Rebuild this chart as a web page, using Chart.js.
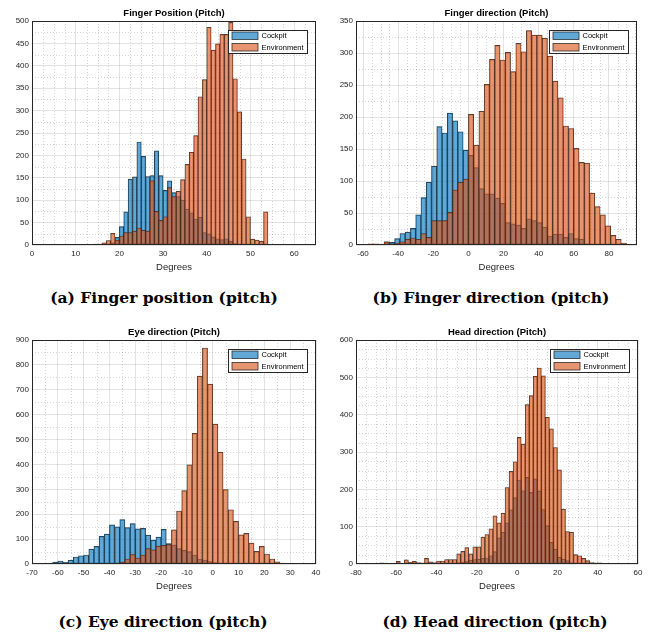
<!DOCTYPE html>
<html>
<head>
<meta charset="utf-8">
<script src="https://cdn.jsdelivr.net/npm/chart.js@4.4.1/dist/chart.umd.min.js"></script>
<style>
  html, body { margin: 0; padding: 0; background: #fff; }
  body { width: 649px; height: 636px; position: relative; overflow: hidden; }
  canvas { position: absolute; }
  .caption {
    position: absolute; width: 324px; height: 20px; line-height: 20px; text-align: center;
    font-family: 'DejaVu Serif', 'Liberation Serif', serif; font-weight: bold; font-size: 15.5px; color: #000;
  }
</style>
</head>
<body>
<canvas id="fingerPos" width="325" height="280" style="left:0;top:0"></canvas>
<canvas id="fingerDir" width="324" height="280" style="left:325px;top:0"></canvas>
<canvas id="eyeDir" width="325" height="280" style="left:0;top:319px"></canvas>
<canvas id="headDir" width="324" height="280" style="left:325px;top:319px"></canvas>

<div class="caption" style="left:2px;top:288px">(a) Finger position (pitch)</div>
<div class="caption" style="left:329px;top:288px">(b) Finger direction (pitch)</div>
<div class="caption" style="left:1px;top:612px">(c) Eye direction (pitch)</div>
<div class="caption" style="left:333px;top:612px">(d) Head direction (pitch)</div>

<script>
// ---- Finger position (pitch), 1 degree bins
const fpBins = [14.5, 15.5, 16.5, 17.5, 18.5, 19.5, 20.5, 21.5, 22.5, 23.5, 24.5, 25.5, 26.5, 27.5, 28.5, 29.5, 30.5, 31.5, 32.5, 33.5,
  34.5, 35.5, 36.5, 37.5, 38.5, 39.5, 40.5, 41.5, 42.5, 43.5, 44.5, 45.5, 46.5, 47.5, 48.5, 49.5, 50.5, 51.5, 52.5, 53.5];
const fpCockpit = [0, 0, 0, 0, 5, 17, 41, 74, 147, 152, 230, 198, 153, 155, 210, 155, 122, 143, 117, 108,
  100, 80, 72, 58, 62, 28, 25, 18, 14, 12, 14, 8, 3, 1, 0, 0, 0, 0, 0, 0];
const fpEnvironment = [2, 2, 5, 10, 26, 11, 20, 28, 28, 31, 38, 33, 31, 143, 75, 55, 63, 128, 108, 120,
  146, 180, 207, 244, 331, 369, 486, 435, 449, 470, 470, 497, 371, 297, 192, 63, 13, 11, 8, 74];
const fpXTicks = [0, 10, 20, 30, 40, 50, 60];
const fpYTicks = [0, 50, 100, 150, 200, 250, 300, 350, 400, 450, 500];

// ---- Finger direction (pitch), 3 degree bins
const fdBins = [-61.5, -58.5, -55.5, -52.5, -49.5, -46.5, -43.5, -40.5, -37.5, -34.5, -31.5, -28.5, -25.5, -22.5, -19.5, -16.5, -13.5,
  -10.5, -7.5, -4.5, -1.5, 1.5, 4.5, 7.5, 10.5, 13.5, 16.5, 19.5, 22.5, 25.5, 28.5, 31.5, 34.5, 37.5, 40.5, 43.5, 46.5, 49.5,
  52.5, 55.5, 58.5, 61.5, 64.5, 67.5, 70.5, 73.5, 76.5, 79.5, 82.5, 85.5, 88.5];
const fdCockpit = [0, 0, 0, 0, 0, 5, 4, 10, 18, 20, 26, 47, 74, 98, 123, 185, 175,
  206, 194, 177, 148, 140, 121, 88, 80, 80, 73, 65, 35, 33, 31, 26, 41, 38, 35, 28, 14, 17,
  17, 12, 18, 10, 9, 2, 0, 0, 0, 0, 0, 0, 0];
const fdEnvironment = [0, 1, 2, 2, 1, 5, 2, 3, 5, 9, 11, 9, 18, 12, 38, 38, 38,
  51, 86, 98, 103, 204, 156, 209, 251, 290, 312, 289, 301, 271, 315, 302, 335, 328, 328, 323, 295, 256,
  230, 186, 182, 151, 129, 128, 81, 60, 47, 30, 15, 9, 3];
const fdXTicks = [-60, -40, -20, 0, 20, 40, 60, 80];
const fdYTicks = [0, 50, 100, 150, 200, 250, 300, 350];

// ---- Eye direction (pitch), 2 degree bins
const edBins = [-65, -63, -61, -59, -57, -55, -53, -51, -49, -47, -45, -43, -41, -39, -37, -35, -33, -31, -29, -27,
  -25, -23, -21, -19, -17, -15, -13, -11, -9, -7, -5, -3, -1, 1, 3, 5, 7, 9, 11, 13,
  15, 17, 19, 21, 23, 25, 27, 29, 31, 33];
const edCockpit = [0, 3, 8, 12, 7, 15, 28, 33, 36, 60, 71, 111, 120, 157, 149, 178, 146, 162, 141, 143,
  116, 96, 108, 139, 82, 76, 62, 55, 50, 36, 20, 16, 10, 6, 3, 2, 1, 0, 0, 0,
  0, 0, 0, 0, 0, 0, 0, 0, 0, 0];
const edEnvironment = [0, 0, 0, 0, 0, 0, 0, 0, 0, 0, 0, 0, 0, 2, 3, 8, 20, 38, 24, 36,
  62, 57, 72, 75, 78, 137, 213, 295, 398, 525, 755, 868, 723, 562, 449, 299, 218, 171, 117, 123,
  84, 51, 71, 40, 20, 9, 4, 2, 3, 3];
const edXTicks = [-70, -60, -50, -40, -30, -20, -10, 0, 10, 20, 30, 40];
const edYTicks = [0, 100, 200, 300, 400, 500, 600, 700, 800, 900];

// ---- Head direction (pitch), 2 degree bins
const hdBins = [-75, -73, -71, -69, -67, -65, -63, -61, -59, -57, -55, -53, -51, -49, -47, -45, -43, -41, -39, -37,
  -35, -33, -31, -29, -27, -25, -23, -21, -19, -17, -15, -13, -11, -9, -7, -5, -3, -1, 1, 3,
  5, 7, 9, 11, 13, 15, 17, 19, 21, 23, 25, 27, 29, 31, 33, 35, 37, 39, 41, 43, 45, 47, 49, 51];
const hdCockpit = [0, 0, 0, 0, 0, 0, 0, 0, 0, 0, 0, 0, 0, 0, 0, 0, 0, 0, 0, 0,
  1, 2, 2, 3, 5, 8, 10, 12, 13, 15, 16, 22, 33, 70, 85, 110, 145, 178, 225, 196,
  232, 192, 228, 196, 146, 103, 58, 40, 18, 13, 9, 3, 1, 0, 0, 0, 0, 0, 0, 0, 0, 0, 0, 0];
const hdEnvironment = [0, 2, 0, 2, 3, 0, 1, 1, 7, 2, 11, 5, 7, 4, 3, 15, 6, 4, 8, 8,
  12, 12, 12, 27, 34, 44, 27, 46, 46, 72, 79, 94, 129, 110, 136, 205, 248, 274, 339, 321,
  427, 451, 503, 525, 504, 393, 362, 312, 252, 147, 87, 85, 25, 22, 15, 9, 4, 3, 3, 1, 2, 0, 0, 2];
const hdXTicks = [-80, -60, -40, -20, 0, 20, 40, 60];
const hdYTicks = [0, 100, 200, 300, 400, 500, 600];

const seriesNames = ['Cockpit', 'Environment'];
const blueFill = 'rgba(0, 114, 189, 0.62)';
const orangeFill = 'rgba(217, 83, 25, 0.62)';
const edgeColor = 'rgba(30, 30, 30, 0.9)';
const axisColor = '#262626';

Chart.defaults.font.family = "'Liberation Sans', Arial, Helvetica, sans-serif";
Chart.defaults.color = axisColor;

// minor dotted grid, axes box, title and the boxed legend (MATLAB look)
const matlabAxes = {
  id: 'matlabAxes',
  beforeDatasetsDraw(chart, args, opts) {
    const { ctx, chartArea: a, scales: { x, y } } = chart;
    ctx.save();
    ctx.strokeStyle = 'rgba(38, 38, 38, 0.28)';
    ctx.lineWidth = 0.7;
    ctx.setLineDash([1, 2]);
    const isMajor = (scale, v) => scale.ticks.some(t => Math.abs(t.value - v) < 1e-6);
    for (let k = Math.ceil(x.min / opts.xMinor); k * opts.xMinor < x.max; k++) {
      const v = k * opts.xMinor;
      if (isMajor(x, v)) continue;
      const px = Math.round(x.getPixelForValue(v)) + 0.5;
      ctx.beginPath(); ctx.moveTo(px, a.top); ctx.lineTo(px, a.bottom); ctx.stroke();
    }
    for (let k = 1; k * opts.yMinor < y.max; k++) {
      const v = k * opts.yMinor;
      if (isMajor(y, v)) continue;
      const py = Math.round(y.getPixelForValue(v)) + 0.5;
      ctx.beginPath(); ctx.moveTo(a.left, py); ctx.lineTo(a.right, py); ctx.stroke();
    }
    ctx.restore();
  },
  afterDraw(chart, args, opts) {
    const { ctx, chartArea: a } = chart;
    ctx.save();
    // box
    ctx.strokeStyle = axisColor;
    ctx.lineWidth = 1;
    ctx.strokeRect(a.left + 0.5, a.top + 0.5, a.right - a.left - 1, a.bottom - a.top - 1);
    // title
    ctx.fillStyle = '#000';
    ctx.font = "bold 9.5px 'Liberation Sans', Arial, sans-serif";
    ctx.textAlign = 'center';
    ctx.textBaseline = 'middle';
    ctx.fillText(opts.title, (a.left + a.right) / 2, a.top - 8);
    // legend
    const w = 80, h = 24;
    const lx = Math.round(a.right - 8.5 - w), ly = Math.round(a.top + 8.5);
    ctx.fillStyle = '#fff';
    ctx.fillRect(lx, ly, w, h);
    ctx.strokeStyle = axisColor;
    ctx.strokeRect(lx + 0.5, ly + 0.5, w - 1, h - 1);
    ctx.font = "7.5px 'Liberation Sans', Arial, sans-serif";
    ctx.textAlign = 'left';
    chart.data.datasets.forEach((ds, i) => {
      const sy = ly + 2 + i * 11.5;
      ctx.fillStyle = ds.backgroundColor;
      ctx.fillRect(lx + 4, sy, 26, 7.5);
      ctx.lineWidth = 0.8;
      ctx.strokeStyle = edgeColor;
      ctx.strokeRect(lx + 4, sy, 26, 7.5);
      ctx.fillStyle = '#000';
      ctx.fillText(ds.label, lx + 33.5, sy + 4);
    });
    ctx.restore();
  }
};

function histPanel(id, cfg) {
  const toPoints = vals => cfg.bins.map((b, i) => ({ x: b, y: vals[i] }));
  return new Chart(document.getElementById(id), {
    type: 'bar',
    data: {
      datasets: [
        { label: seriesNames[0], data: toPoints(cfg.cockpit), backgroundColor: blueFill, order: 1 },
        { label: seriesNames[1], data: toPoints(cfg.environment), backgroundColor: orangeFill, order: 0 }
      ]
    },
    options: {
      responsive: false,
      animation: false,
      layout: { padding: { left: 0, right: cfg.padRight, top: 21, bottom: 0 } },
      datasets: {
        bar: {
          grouped: false, barPercentage: 1, categoryPercentage: 1,
          borderWidth: 0.5, borderColor: edgeColor, borderSkipped: false
        }
      },
      scales: {
        x: {
          type: 'linear', min: cfg.xMin, max: cfg.xMax, offset: false,
          afterBuildTicks: s => { s.ticks = cfg.xTicks.map(v => ({ value: v })); },
          afterFit: s => { s.height = 35; },
          grid: { color: 'rgba(38, 38, 38, 0.13)', drawTicks: false, offset: false },
          border: { display: false },
          ticks: { padding: 4, font: { size: 8 }, color: axisColor, maxRotation: 0, autoSkip: false },
          title: { display: true, text: 'Degrees', font: { size: 9.5 }, color: axisColor, padding: { top: 0, bottom: 7 } }
        },
        y: {
          type: 'linear', min: 0, max: cfg.yMax,
          afterBuildTicks: s => { s.ticks = cfg.yTicks.map(v => ({ value: v })); },
          afterFit: s => { s.width = cfg.yWidth; },
          grid: { color: 'rgba(38, 38, 38, 0.13)', drawTicks: false },
          border: { display: false },
          ticks: { padding: 3, font: { size: 8 }, color: axisColor, autoSkip: false }
        }
      },
      plugins: {
        legend: { display: false },
        tooltip: { enabled: false },
        matlabAxes: { title: cfg.title, xMinor: cfg.xMinor, yMinor: cfg.yMinor }
      }
    },
    plugins: [matlabAxes]
  });
}

histPanel('fingerPos', {
  title: 'Finger Position (Pitch)', bins: fpBins, cockpit: fpCockpit, environment: fpEnvironment,
  xMin: 0, xMax: 65, xTicks: fpXTicks, yMax: 500, yTicks: fpYTicks, xMinor: 2.5, yMinor: 25,
  yWidth: 32, padRight: 9
});
histPanel('fingerDir', {
  title: 'Finger direction (Pitch)', bins: fdBins, cockpit: fdCockpit, environment: fdEnvironment,
  xMin: -64, xMax: 96, xTicks: fdXTicks, yMax: 350, yTicks: fdYTicks, xMinor: 5, yMinor: 25,
  yWidth: 31, padRight: 12
});
histPanel('eyeDir', {
  title: 'Eye direction (Pitch)', bins: edBins, cockpit: edCockpit, environment: edEnvironment,
  xMin: -70, xMax: 40, xTicks: edXTicks, yMax: 900, yTicks: edYTicks, xMinor: 5, yMinor: 50,
  yWidth: 32, padRight: 9
});
histPanel('headDir', {
  title: 'Head direction (Pitch)', bins: hdBins, cockpit: hdCockpit, environment: hdEnvironment,
  xMin: -80, xMax: 60, xTicks: hdXTicks, yMax: 600, yTicks: hdYTicks, xMinor: 5, yMinor: 25,
  yWidth: 31, padRight: 11
});
</script>
</body>
</html>
